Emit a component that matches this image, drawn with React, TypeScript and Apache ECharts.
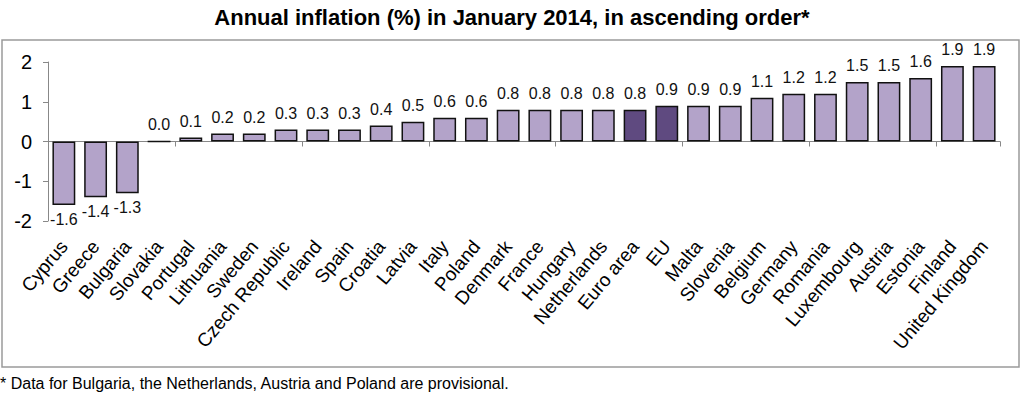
import React, { useEffect, useRef } from "react";
import * as echarts from "echarts";

const categories = [
  "Cyprus", "Greece", "Bulgaria", "Slovakia", "Portugal", "Lithuania", "Sweden",
  "Czech Republic", "Ireland", "Spain", "Croatia", "Latvia", "Italy", "Poland",
  "Denmark", "France", "Hungary", "Netherlands", "Euro area", "EU", "Malta",
  "Slovenia", "Belgium", "Germany", "Romania", "Luxembourg", "Austria", "Estonia",
  "Finland", "United Kingdom",
];
const values = [
  -1.6, -1.4, -1.3, 0.0, 0.1, 0.2, 0.2, 0.3, 0.3, 0.3, 0.4, 0.5, 0.6, 0.6,
  0.8, 0.8, 0.8, 0.8, 0.8, 0.9, 0.9, 0.9, 1.1, 1.2, 1.2, 1.5, 1.5, 1.6, 1.9, 1.9,
];
const highlighted = ["Euro area", "EU"];
const yTicks = [-2, -1, 0, 1, 2];

const TITLE = "Annual inflation (%) in January 2014, in ascending order*";
const FOOTNOTE = "* Data for Bulgaria, the Netherlands, Austria and Poland are provisional.";

export default function App() {
  const ref = useRef<HTMLDivElement>(null);
  useEffect(() => {
    if (!ref.current) return;
    const chart = echarts.init(ref.current, null, { renderer: "svg" });
    const font = "'Liberation Sans', Arial, sans-serif";
    chart.setOption({
      animation: false,
      textStyle: { fontFamily: font },
      title: {
        text: TITLE,
        left: "center",
        top: 1,
        textStyle: { fontSize: 22, fontWeight: "bold", color: "#000", fontFamily: font },
      },
      graphic: [
        {
          type: "rect",
          shape: { x: 2, y: 40, width: 1017, height: 327 },
          style: { fill: "none", stroke: "#9a9a9a", lineWidth: 1.5 },
          silent: true,
        },
        {
          type: "text",
          left: 0,
          top: 375,
          style: { text: FOOTNOTE, fontSize: 16, fill: "#000", fontFamily: font },
        },
      ],
      grid: { left: 48, right: 24, top: 62, bottom: 176, containLabel: false },
      xAxis: [
        {
          type: "category",
          data: categories,
          axisLine: { onZero: true, lineStyle: { color: "#888", width: 1 } },
          axisTick: { show: true, length: 5, lineStyle: { color: "#888" } },
          axisLabel: { show: false },
        },
        {
          type: "category",
          data: categories,
          position: "bottom",
          axisLine: { show: false },
          axisTick: { show: false },
          axisLabel: {
            rotate: 50,
            interval: 0,
            margin: 22,
            fontSize: 19,
            color: "#000",
            fontFamily: font,
          },
        },
      ],
      yAxis: {
        type: "value",
        min: -2,
        max: 2,
        interval: 1,
        splitLine: { show: false },
        axisLine: { show: true, lineStyle: { color: "#888" } },
        axisTick: { show: true, length: 5, lineStyle: { color: "#888" } },
        axisLabel: {
          fontSize: 20,
          color: "#000",
          margin: 16,
          fontFamily: font,
          formatter: (v: number) => (yTicks.includes(v) ? String(v) : ""),
        },
      },
      series: [
        {
          type: "bar",
          xAxisIndex: 0,
          barCategoryGap: "28%",
          data: values.map((v, i) => ({
            value: v,
            itemStyle: {
              color: highlighted.includes(categories[i]) ? "#5f4a80" : "#b3a3c9",
              borderColor: "#111",
              borderWidth: 1.5,
            },
            label: {
              position: v < 0 ? "bottom" : "top",
              distance: v < 0 ? 6 : 8,
            },
          })),
          label: {
            show: true,
            fontSize: 16,
            color: "#111",
            fontFamily: font,
            formatter: (p: any) => Number(p.value).toFixed(1),
          },
        },
      ],
    });
    return () => chart.dispose();
  }, []);
  return (
    <div
      ref={ref}
      style={{ position: "fixed", left: 0, top: 0, width: 1024, height: 397, background: "#fff" }}
    />
  );
}
